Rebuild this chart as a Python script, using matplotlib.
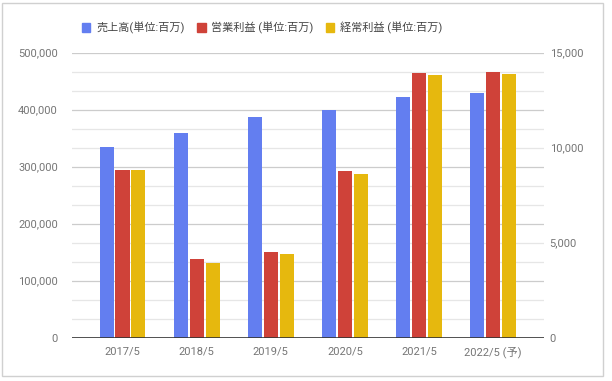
import matplotlib
matplotlib.use("Agg")
import matplotlib.pyplot as plt
import numpy as np
from matplotlib.patches import Rectangle

plt.rcParams['font.family'] = ['Roboto', 'Noto Sans CJK JP', 'DejaVu Sans']

categories = ["2017/5", "2018/5", "2019/5", "2020/5", "2021/5", "2022/5 (予)"]
sales = [335000, 359000, 387000, 399000, 422000, 429000]
op_profit = [8830, 4140, 4500, 8780, 13920, 13970]
ord_profit = [8810, 3930, 4400, 8620, 13810, 13860]
series_names = ["売上高(単位:百万)", "営業利益 (単位:百万)", "経常利益 (単位:百万)"]
colors = ["#637ef0", "#cf4239", "#e6b80e"]

fig = plt.figure(figsize=(6.12, 3.81), dpi=100)
ax1 = fig.add_axes([71.7 / 612, 0.1136, (544 - 71.7) / 612, 0.7481])
ax2 = ax1.twinx()

x = np.arange(len(categories))
w = 0.19
step = 0.215

ax1.bar(x - step, sales, width=w, color=colors[0], zorder=3)
ax2.bar(x, op_profit, width=w, color=colors[1], zorder=3)
ax2.bar(x + step, ord_profit, width=w, color=colors[2], zorder=3)

ax1.set_ylim(0, 500000)
ax2.set_ylim(0, 15000)
ax1.set_xlim(-0.685, 5.685)

# gridlines
for v in np.linspace(0, 500000, 16)[1:]:
    major = abs(v / 100000 - round(v / 100000)) < 1e-6
    ax1.axhline(v, color="#cccccc" if major else "#e6e6e6", lw=0.9, zorder=1)
ax2.axhline(0, color="#333333", lw=1.2, zorder=4)

ax1.set_yticks(np.arange(0, 500001, 100000))
ax1.set_yticklabels([f"{int(v):,}" for v in np.arange(0, 500001, 100000)])
ax2.set_yticks(np.arange(0, 15001, 5000))
ax2.set_yticklabels([f"{int(v):,}" for v in np.arange(0, 15001, 5000)])
ax1.set_xticks(x)
ax1.set_xticklabels(categories)

for ax in (ax1, ax2):
    for s in ax.spines.values():
        s.set_visible(False)
    ax.tick_params(length=0, labelsize=8, labelcolor="#757575")
ax1.tick_params(axis="y", pad=10)
ax2.tick_params(axis="y", pad=4)
ax1.tick_params(axis="x", pad=6)

ax1.set_zorder(0)
ax2.patch.set_visible(False)

handles = [Rectangle((0, 0), 1, 1, color=c) for c in colors]
fig.legend(handles, series_names, loc="center", bbox_to_anchor=(0.428, 0.927), ncol=3,
           frameon=False, fontsize=8, labelcolor="#444444", handlelength=0.8,
           handleheight=0.8, columnspacing=1.1, handletextpad=0.5)

fig.patches.append(Rectangle((2 / 612, 5 / 381), 601 / 612, 373 / 381, transform=fig.transFigure,
                             fill=False, edgecolor="#d0d0d0", lw=1))

fig.savefig("out.png", dpi=100)
